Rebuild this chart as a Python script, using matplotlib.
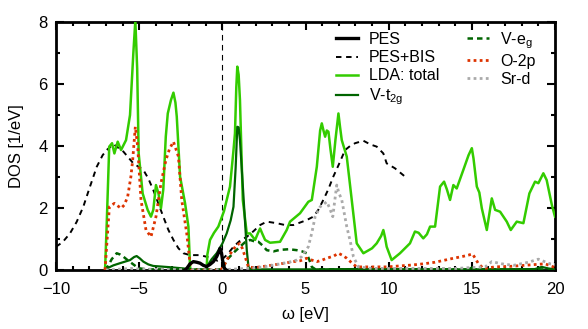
import matplotlib
matplotlib.use("Agg")
import matplotlib.pyplot as plt
from matplotlib.ticker import MultipleLocator

plt.rcParams['font.family'] = ['Liberation Sans', 'DejaVu Sans']

# ---- data ----
pes_x = [-2.25, -2.14, -1.94, -1.74, -1.54, -1.34, -1.14, -0.94, -0.74, -0.54, -0.34, -0.2, -0.14, -0.05, 0.02, 0.1, 0.16, 0.25]
pes_y = [0, 0.05, 0.2, 0.27, 0.25, 0.22, 0.15, 0.11, 0.18, 0.27, 0.43, 0.6, 0.7, 0.55, 0.3, 0.1, 0.03, 0]

bis_x = [-10, -9.6, -9.16, -8.76, -8.36, -7.95, -7.55, -7.2, -6.95, -6.55, -5.95, -5.35, -4.75, -4.45, -4.15, -3.85,
         -3.55, -3.25, -2.94, -2.64, -2.34, -1.94, -1.34, -0.74, -0.3, 0.06, 0.3, 0.67, 1.07, 1.47, 1.87, 2.27, 2.67,
         3.27, 3.77, 4.27, 4.77, 5.07, 5.47, 5.77, 6.07, 6.37, 6.67, 7.0, 7.38, 7.68, 7.98, 8.48, 8.9, 9.28, 9.68,
         9.88, 10.38, 10.99]
bis_y = [0.75, 0.9, 1.18, 1.55, 2.04, 2.7, 3.33, 3.7, 3.87, 4.06, 3.82, 3.44, 3.23, 2.95, 2.58, 2.15,
         1.72, 1.3, 0.97, 0.7, 0.54, 0.48, 0.48, 0.40, 0.3, 0.38, 0.5, 0.75, 0.95, 1.07, 1.25, 1.45, 1.56,
         1.51, 1.45, 1.45, 1.55, 1.61, 1.72, 1.94, 2.26, 2.6, 3.01, 3.4, 3.87, 4.0, 4.09, 4.17, 4.05, 3.98, 3.76,
         3.44, 3.28, 3.01]

lda_x = [-7.05, -6.95, -6.8, -6.63, -6.49, -6.29, -6.09, -5.79, -5.55, -5.35, -5.23, -5.12, -5.03, -4.79, -4.49,
         -4.29, -4.15, -3.99, -3.84, -3.69, -3.55, -3.40, -3.28, -3.09, -2.94, -2.82, -2.74, -2.54, -2.24, -2.04,
         -1.94, -1.9, -0.95, -0.9, -0.74, -0.5, -0.24, 0.1, 0.46, 0.66, 0.76, 0.84, 0.90, 0.98, 1.06, 1.23, 1.47,
         1.67, 1.97, 2.15, 2.27, 2.42, 2.57, 2.87, 3.47, 3.87, 4.07, 4.67, 5.17, 5.38, 5.68, 5.88, 5.98, 6.08,
         6.18, 6.28, 6.38, 6.5, 6.64, 6.8, 6.98, 7.08, 7.18, 7.48, 7.78, 8.08, 8.48, 9.0, 9.28, 9.55, 9.68, 9.78,
         9.88, 10.18, 10.68, 11.28, 11.58, 11.8, 12.08, 12.3, 12.49, 12.79, 13.09, 13.33, 13.5, 13.69, 13.89,
         14.09, 14.49, 14.8, 15.0, 15.1, 15.30, 15.45, 15.60, 15.90, 16.05, 16.2, 16.40, 16.70, 17.1, 17.34,
         17.70, 18.10, 18.46, 18.80, 19.0, 19.30, 19.50, 19.81, 20.0]
lda_y = [0, 1.5, 3.98, 4.09, 3.76, 4.14, 3.87, 4.19, 5.0, 7.0, 8.05, 6.5, 3.76, 2.47, 1.94,
         1.72, 1.94, 2.74, 2.47, 1.99, 2.6, 4.3, 5.05, 5.48, 5.72, 5.4, 4.95, 3.01, 2.15, 1.40,
         0.1, 0, 0, 0.5, 0.97, 1.2, 1.4, 1.9, 2.69, 3.8, 4.41, 5.9, 6.56, 6.3, 5.48, 2.26, 1.18,
         1.18, 0.97, 1.2, 1.34, 1.15, 0.97, 0.88, 0.91, 1.29, 1.56, 1.83, 2.2, 2.26, 3.33, 4.5, 4.73, 4.5,
         4.3, 4.5, 4.46, 3.9, 3.33, 4.2, 5.05, 4.6, 4.19, 3.66, 2.26, 0.86, 0.54, 0.7, 0.86, 1.1, 1.29, 1.05,
         0.75, 0.32, 0.54, 0.86, 1.24, 1.2, 1.02, 1.15, 1.4, 1.4, 2.69, 2.85, 2.6, 2.26, 2.74,
         2.63, 3.23, 3.7, 3.93, 3.6, 2.69, 2.5, 1.99, 1.29, 1.8, 2.31, 1.94, 1.88, 1.56, 1.29,
         1.56, 1.51, 2.47, 2.85, 2.8, 3.12, 2.9, 2.1, 1.72]

t2g_x = [-7.05, -6.95, -6.55, -6.15, -5.55, -5.3, -5.15, -4.95, -4.75, -4.45, -4.15, -3.15, -2.34, -1.94, -1.0,
         -0.94, -0.64, -0.34, 0.0, 0.26, 0.5, 0.67, 0.8, 0.90, 0.98, 1.06, 1.26, 1.47, 1.57, 1.7, 5, 8, 14.8,
         15.0, 15.2, 18.8, 19.2, 19.6, 20]
t2g_y = [0, 0.05, 0.15, 0.22, 0.32, 0.42, 0.45, 0.37, 0.27, 0.18, 0.13, 0.09, 0.05, 0.02, 0.02,
         0.1, 0.35, 0.54, 0.85, 1.18, 1.6, 2.04, 3.3, 4.62, 4.6, 4.19, 2.47, 0.64, 0.1, 0.02, 0.02, 0.03, 0.02,
         0.08, 0.02, 0.03, 0.1, 0.05, 0.02]

eg_x = [-7.05, -6.95, -6.65, -6.35, -6.15, -5.95, -5.7, -5.45, -5.2, -4.95, -4.5, 0.0, 0.26, 0.66, 1.06, 1.37,
        1.67, 1.9, 2.17, 2.4, 2.67, 3.07, 3.47, 4.0, 4.47, 4.8, 5.07, 5.25, 5.38, 5.6, 20]
eg_y = [0, 0.05, 0.35, 0.54, 0.5, 0.43, 0.32, 0.22, 0.12, 0.05, 0.02, 0.02, 0.32, 0.55, 0.75, 0.9,
        0.97, 0.93, 0.91, 0.8, 0.64, 0.6, 0.65, 0.67, 0.64, 0.6, 0.54, 0.3, 0.1, 0.02, 0.02]

o2p_x = [-7.05, -6.95, -6.79, -6.49, -6.09, -5.89, -5.69, -5.5, -5.39, -5.23, -5.09, -4.89, -4.59, -4.29, -3.99,
         -3.69, -3.39, -3.18, -2.94, -2.64, -2.44, -2.14, -1.94, -1.85, -0.1, 0.06, 0.3, 0.56, 0.85, 1.06, 1.2,
         1.37, 1.57, 2.0, 2.67, 3.5, 4.27, 4.7, 5.07, 5.38, 5.68, 6.0, 6.28, 6.7, 6.98, 7.2, 7.48, 7.8, 8.08,
         9.9, 11.39, 12.1, 12.79, 13.39, 13.9, 14.39, 14.8, 15.04, 15.2, 15.4, 15.7, 16.4, 17.4, 18.4, 19.4,
         19.9, 20]
o2p_y = [0, 0.8, 2.04, 2.15, 1.99, 2.1, 2.37, 3.0, 3.55, 4.62, 3.98, 2.26, 1.29, 1.07, 1.72,
         2.80, 3.55, 3.9, 4.14, 3.66, 2.26, 1.18, 0.2, 0, 0, 0.1, 0.35, 0.59, 0.8, 0.86, 0.7,
         0.43, 0.09, 0.08, 0.13, 0.2, 0.27, 0.3, 0.38, 0.32, 0.27, 0.32, 0.38, 0.45, 0.54, 0.48, 0.38, 0.22, 0.1,
         0.1, 0.16, 0.2, 0.25, 0.32, 0.38, 0.43, 0.48, 0.52, 0.38, 0.2, 0.05, 0.1, 0.12, 0.16, 0.2,
         0.1, 0.08]

srd_x = [-7.0, -5.5, -5.0, -2, 0, 1.5, 2.5, 3.5, 4.0, 4.47, 4.77, 5.17, 5.38, 5.58, 5.88, 6.28, 6.45, 6.64, 6.75,
         6.88, 7.0, 7.18, 7.48, 7.7, 7.88, 8.18, 9, 12, 14, 15, 15.8, 16.2, 16.8, 17.5, 18.4, 19.0, 19.7, 20]
srd_y = [0, 0.05, 0.03, 0.01, 0.01, 0.05, 0.1, 0.2, 0.25, 0.32, 0.43, 0.75, 1.2, 1.72, 2.04, 2.20, 2.0, 1.72, 2.2,
         2.74, 2.5, 2.26, 1.40, 0.9, 0.43, 0.1, 0.05, 0.05, 0.05, 0.08, 0.1, 0.27, 0.2, 0.15, 0.25, 0.35, 0.2, 0.18]

labels = ['PES', 'PES+BIS', 'LDA: total', r'V-t$_{\mathregular{2g}}$', r'V-e$_{\mathregular{g}}$', 'O-2p', 'Sr-d']

# ---- figure ----
fig = plt.figure(figsize=(5.88, 3.29), dpi=100)
ax = fig.add_axes([56/588, 1-270/329, (555-56)/588, (270-22)/329])

ax.axvline(0, color='black', lw=0.8, ls=(0, (5, 4)), zorder=1)

ax.plot(pes_x, pes_y, color='black', lw=2.4, label=labels[0], zorder=10)
ax.plot(bis_x, bis_y, color='black', lw=1.4, ls=(0, (2.8, 2.4)), label=labels[1], zorder=3)
ax.plot(lda_x, lda_y, color='#33cc00', lw=1.8, label=labels[2], zorder=4)
ax.plot(t2g_x, t2g_y, color='#006400', lw=1.6, label=labels[3], zorder=5)
ax.plot(eg_x, eg_y, color='#006400', lw=1.8, ls=(0, (2.2, 1.6)), label=labels[4], zorder=5)
ax.plot(o2p_x, o2p_y, color='#dd3300', lw=2.0, ls=(0, (1, 1.2)), label=labels[5], zorder=6)
ax.plot(srd_x, srd_y, color='#aaaaaa', lw=2.0, ls=(0, (1, 1.2)), label=labels[6], zorder=6)

ax.set_xlim(-10, 20)
ax.set_ylim(0, 8)
ax.xaxis.set_major_locator(MultipleLocator(5))
ax.xaxis.set_minor_locator(MultipleLocator(1))
ax.yaxis.set_major_locator(MultipleLocator(2))
ax.yaxis.set_minor_locator(MultipleLocator(1))
ax.tick_params(which='both', direction='in', top=True, right=True, width=1.5, labelsize=12)
ax.tick_params(which='major', length=5.5)
ax.tick_params(which='minor', length=2.8)
ax.tick_params(axis='x', which='major', pad=9)
ax.tick_params(axis='y', which='major', pad=6)
for s in ax.spines.values():
    s.set_linewidth(2.0)

ax.set_xlabel('ω [eV]', fontsize=12, labelpad=7)
ax.set_ylabel('DOS [1/eV]', fontsize=12, labelpad=10)

leg = ax.legend(ncol=2, loc='upper left', bbox_to_anchor=(336/588, 1-30/329), bbox_transform=fig.transFigure,
                frameon=False, fontsize=11.5, handlelength=1.4, handletextpad=0.65, columnspacing=1.75,
                labelspacing=0.2, borderpad=0, borderaxespad=0)

fig.savefig('out.png', dpi=100)
